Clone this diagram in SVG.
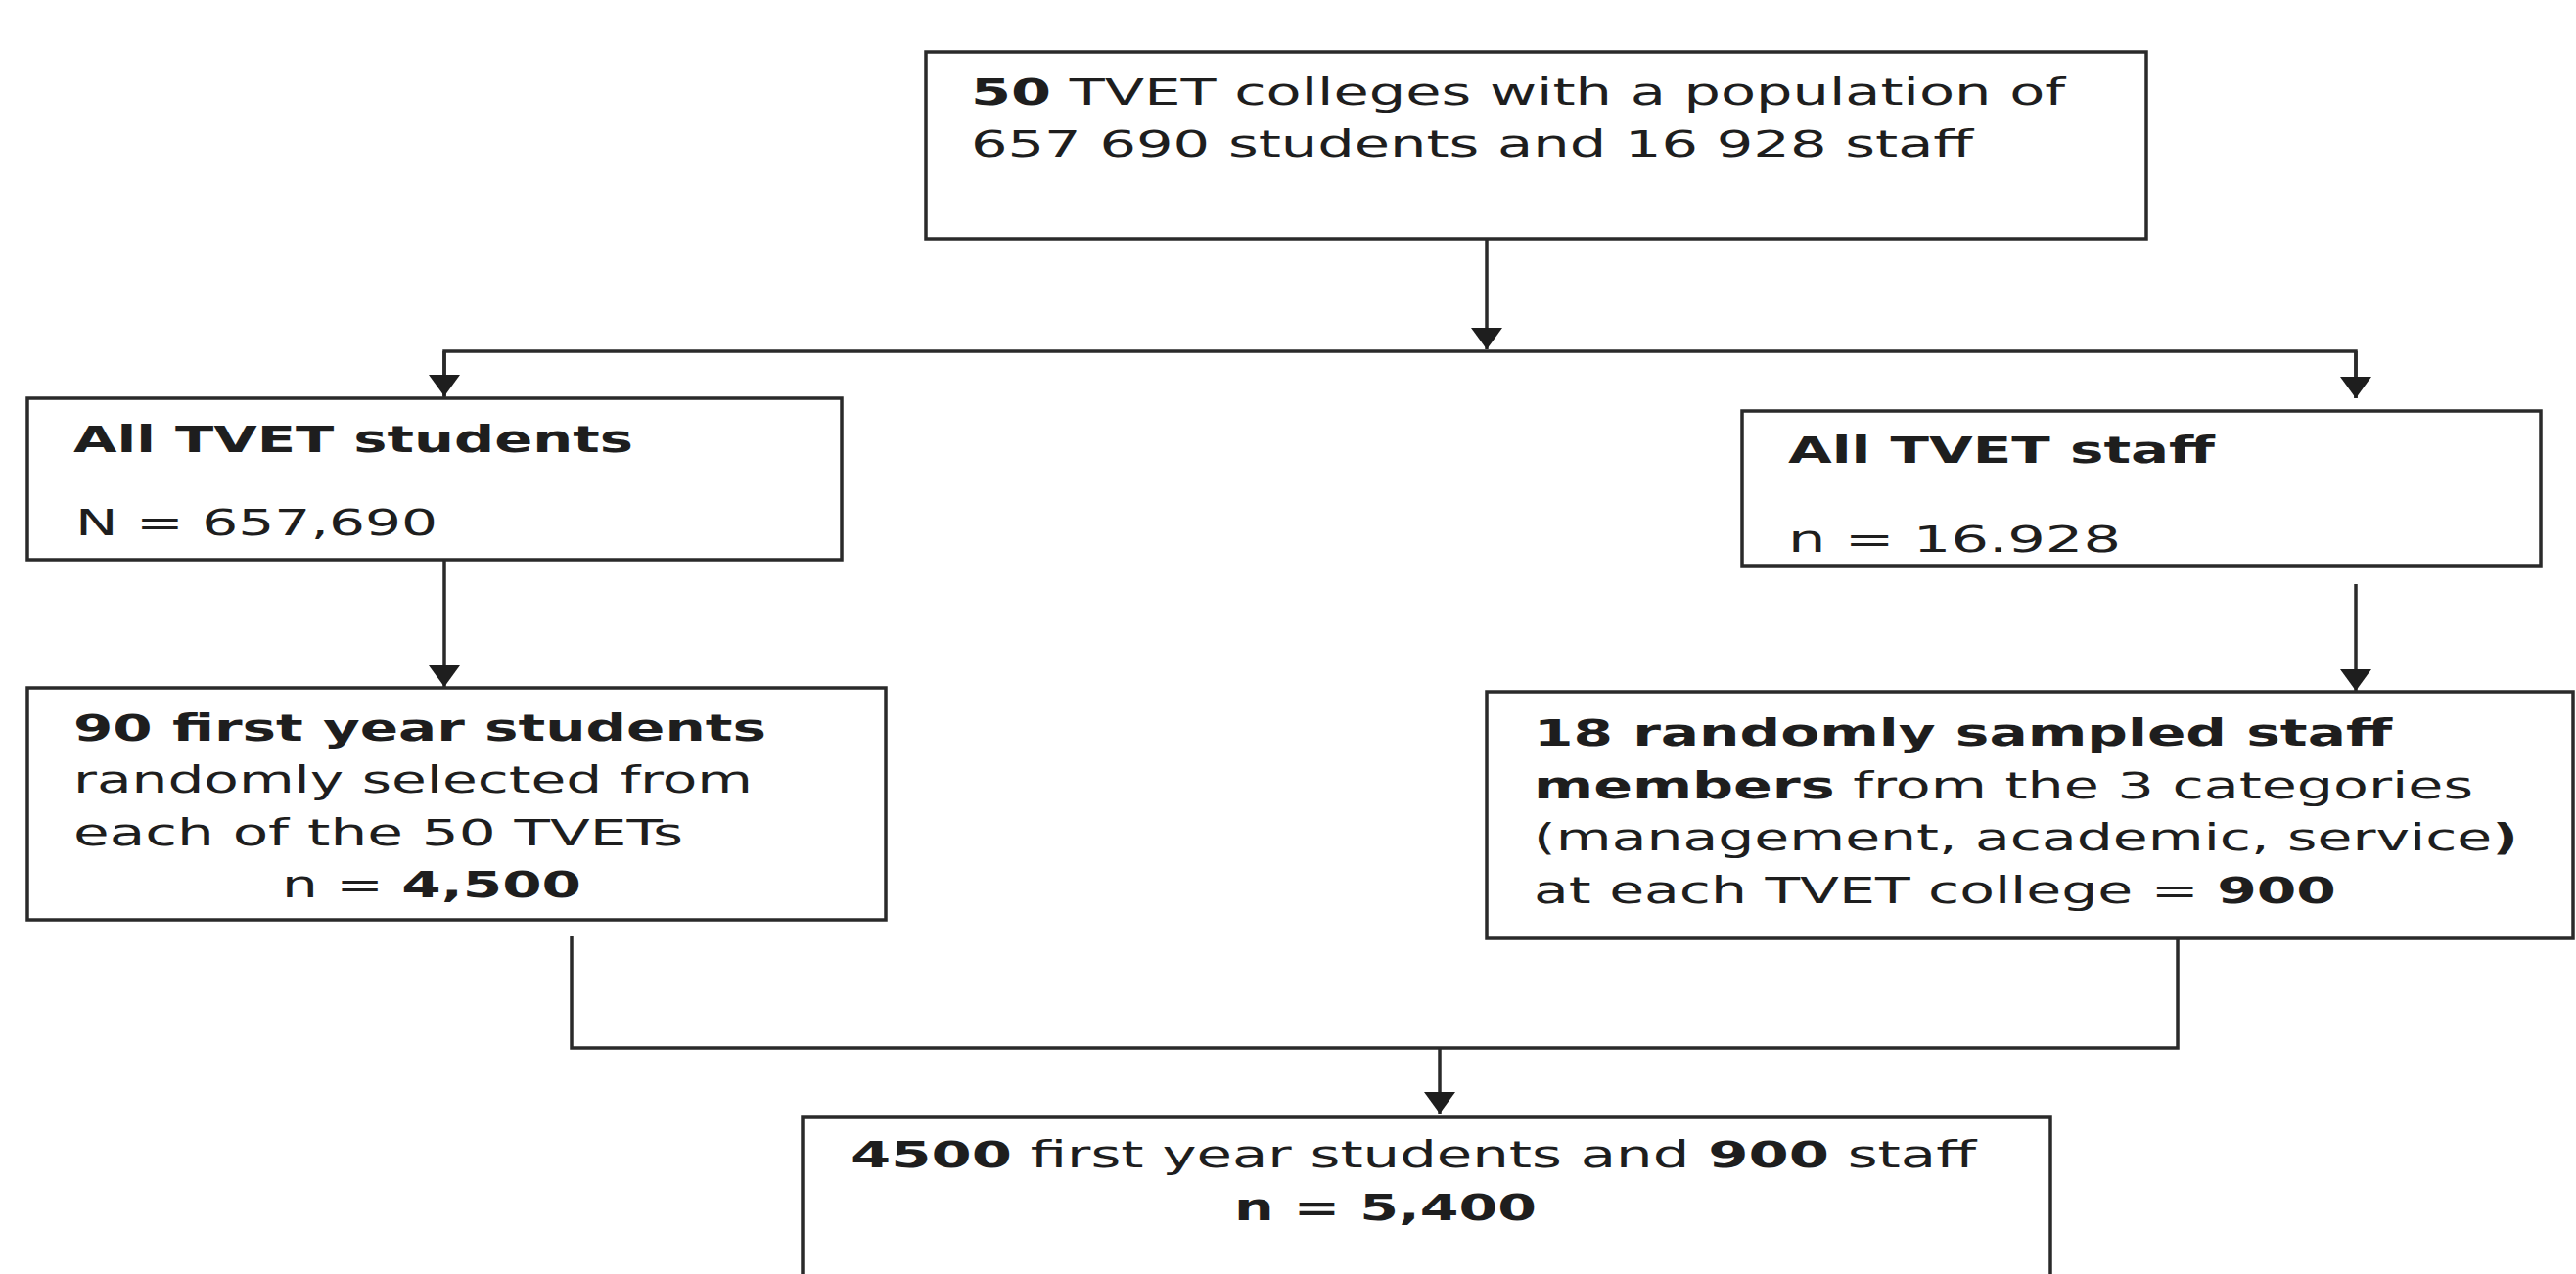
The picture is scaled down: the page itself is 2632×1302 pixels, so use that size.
<svg xmlns="http://www.w3.org/2000/svg" width="2632" height="1302" viewBox="0 0 2632 1302">
<defs>
<style>
.box{fill:#fff;stroke:#2a2a2a;stroke-width:3.5}
.ln{fill:none;stroke:#2a2a2a;stroke-width:3.5}
text{font-family:"DejaVu Sans",Verdana,"Liberation Sans",sans-serif;fill:#1e1e1e;font-size:37px}
.b{font-weight:bold}
</style>
<marker id="ah" markerUnits="userSpaceOnUse" markerWidth="24" markerHeight="34" refX="22" refY="16" orient="auto" viewBox="0 0 24 34">
<path d="M0,0 L22,16 L0,32 z" fill="#1e1e1e"/>
</marker>
</defs>
<rect width="2632" height="1302" fill="#fff"/>
<g id="connectors">
<line class="ln" x1="1519" y1="244" x2="1519" y2="357" marker-end="url(#ah)"/>
<polyline class="ln" points="454,407 454,359 2407,359 2407,407"/>
<line class="ln" x1="454" y1="359" x2="454" y2="405" marker-end="url(#ah)"/>
<line class="ln" x1="2407" y1="359" x2="2407" y2="407" marker-end="url(#ah)"/>
<line class="ln" x1="454" y1="572" x2="454" y2="702" marker-end="url(#ah)"/>
<line class="ln" x1="2407" y1="597" x2="2407" y2="706" marker-end="url(#ah)"/>
<polyline class="ln" points="584,957 584,1071 2225,1071 2225,960"/>
<line class="ln" x1="1471" y1="1071" x2="1471" y2="1138" marker-end="url(#ah)"/>
</g>
<g id="node-top">
<rect class="box" x="946" y="53" width="1247" height="191"/>
<text x="992" y="107" font-size="34" textLength="1118" lengthAdjust="spacingAndGlyphs"><tspan class="b">50</tspan> TVET colleges with a population of</text>
<text x="992" y="160" font-size="34" textLength="1024" lengthAdjust="spacingAndGlyphs">657 690 students and 16 928 staff</text>
</g>
<g id="node-students">
<rect class="box" x="28" y="407" width="832" height="165"/>
<text class="b" x="75" y="462" textLength="572" lengthAdjust="spacingAndGlyphs">All TVET students</text>
<text x="77" y="547" textLength="370" lengthAdjust="spacingAndGlyphs">N = 657,690</text>
</g>
<g id="node-staff">
<rect class="box" x="1780" y="420" width="816" height="158"/>
<text class="b" x="1827" y="473" font-size="36" textLength="436" lengthAdjust="spacingAndGlyphs">All TVET staff</text>
<text x="1827" y="564" font-size="36" textLength="340" lengthAdjust="spacingAndGlyphs">n = 16.928</text>
</g>
<g id="node-students-sample">
<rect class="box" x="28" y="703" width="877" height="237"/>
<text class="b" x="75" y="757" textLength="708" lengthAdjust="spacingAndGlyphs">90 first year students</text>
<text x="75" y="810" textLength="694" lengthAdjust="spacingAndGlyphs">randomly selected from</text>
<text x="75" y="864" textLength="623" lengthAdjust="spacingAndGlyphs">each of the 50 TVETs</text>
<text x="288" y="917" textLength="306" lengthAdjust="spacingAndGlyphs">n = <tspan class="b">4,500</tspan></text>
</g>
<g id="node-staff-sample">
<rect class="box" x="1519" y="707" width="1110" height="252"/>
<text class="b" x="1567" y="762" textLength="877" lengthAdjust="spacingAndGlyphs">18 randomly sampled staff</text>
<text x="1567" y="816" textLength="960" lengthAdjust="spacingAndGlyphs"><tspan class="b">members</tspan> from the 3 categories</text>
<text x="1567" y="869" textLength="1006" lengthAdjust="spacingAndGlyphs">(management, academic, service<tspan class="b">)</tspan></text>
<text x="1567" y="923" textLength="820" lengthAdjust="spacingAndGlyphs">at each TVET college = <tspan class="b">900</tspan></text>
</g>
<g id="node-total">
<rect class="box" x="820" y="1142" width="1275" height="175"/>
<text x="869" y="1193" font-size="38" textLength="1150" lengthAdjust="spacingAndGlyphs"><tspan class="b">4500</tspan> first year students and <tspan class="b">900</tspan> staff</text>
<text class="b" x="1261" y="1247" font-size="38" textLength="309" lengthAdjust="spacingAndGlyphs">n = 5,400</text>
</g>
</svg>
